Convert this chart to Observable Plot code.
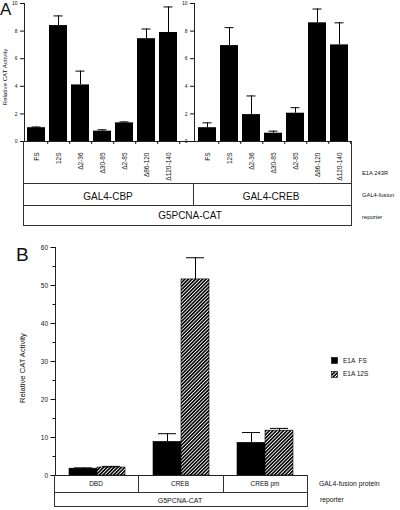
<!DOCTYPE html>
<html>
<head>
<meta charset="utf-8">
<script src="https://cdn.jsdelivr.net/npm/d3@7"></script>
<script src="https://cdn.jsdelivr.net/npm/@observablehq/plot@0.6"></script>
<style>
  body { margin: 0; background: white; }
  #wrap { position: relative; width: 400px; height: 510px; background: white; overflow: hidden;
          font-family: "Liberation Sans", Arial, Helvetica, sans-serif; color: #111; }
  .abs { position: absolute; }
  .t { position: absolute; white-space: nowrap; line-height: 1; }
  .c { transform: translate(-50%, -50%); }
  .l { transform: translate(0, -50%); }
  .hl { position: absolute; height: 0; border-top: 1px solid #333; }
  .vl { position: absolute; width: 0; border-left: 1px solid #333; }
  .rot { position: absolute; white-space: nowrap; line-height: 1; transform: translate(-50%, -50%) rotate(-90deg); }
</style>
</head>
<body>
<svg width="0" height="0" style="position:absolute">
  <defs>
    <pattern id="hatch" patternUnits="userSpaceOnUse" width="2.5" height="2.5" patternTransform="rotate(45)">
      <rect width="2.5" height="2.5" fill="white"></rect>
      <rect width="1.6" height="2.5" fill="black"></rect>
    </pattern>
  </defs>
</svg>
<div id="wrap"></div>
<script>
// ---------- data ----------
const catsA = ["FS", "12S", "Δ2-36", "Δ30-85", "Δ2-85", "Δ86-120", "Δ120-140"];
const cbpMean  = [1.0, 8.4, 4.1, 0.75, 1.35, 7.45, 7.9];
const cbpUpper = [1.05, 9.1, 5.1, 0.85, 1.42, 8.15, 9.75];
const crebMean  = [1.0, 6.95, 1.95, 0.6, 2.05, 8.6, 7.0];
const crebUpper = [1.35, 8.25, 3.3, 0.75, 2.45, 9.6, 8.6];
const ticksA = [0, 2, 4, 6, 8, 10];

const groupsB = ["DBD", "CREB", "CREB pm"];
const seriesB = ["FS", "12S"];
const fsMeanB   = [1.8, 8.85, 8.6];
const fsUpperB  = [2.0, 11.0, 11.3];
const s12MeanB  = [2.1, 51.6, 11.8];
const s12UpperB = [2.4, 57.3, 12.4];
const ticksB = [0, 10, 20, 30, 40, 50, 60];
const minorTicksB = [5, 15, 25, 35, 45, 55];

const wrap = document.getElementById("wrap");
const font = '"Liberation Sans", Arial, Helvetica, sans-serif';

function place(el, left, top) {
  const d = document.createElement("div");
  d.className = "abs";
  d.style.left = left + "px";
  d.style.top = top + "px";
  d.appendChild(el);
  wrap.appendChild(d);
}

function panelA(means, uppers, opts) {
  const data = catsA.map((c, i) => ({cat: c, value: means[i], upper: uppers[i]}));
  const n = catsA.length, pi = 0.18, po = 0.05;
  const step = (opts.xRange[1] - opts.xRange[0]) / (n - pi + 2 * po);
  return Plot.plot({
    width: opts.width, height: 183,
    marginLeft: opts.marginLeft, marginRight: opts.marginRight, marginTop: 3, marginBottom: 42,
    style: {background: "transparent", overflow: "visible", fontFamily: font, color: "#111"},
    x: {domain: catsA, range: opts.xRange, paddingInner: pi, paddingOuter: po},
    y: {domain: [0, 10]},
    marks: [
      Plot.barY(data, {x: "cat", y: "value", fill: "black"}),
      Plot.ruleX(data, {x: "cat", y1: "value", y2: "upper", stroke: "black", strokeWidth: 1}),
      Plot.tickY(data, {x: "cat", y: "upper", insetLeft: 4.5, insetRight: 4.5, stroke: "black", strokeWidth: 1}),
      Plot.frame({anchor: "left", stroke: "#222"}),
      Plot.frame({anchor: "bottom", stroke: "#222"}),
      Plot.axisY({ticks: ticksA, tickSize: 4, tickPadding: 3, fontSize: 5, label: null}),
      Plot.axisX({text: null, tickSize: 3, dx: step / 2, label: null}),
      Plot.axisX({tickSize: 0, tickPadding: 11, tickRotate: -90, fontSize: 6.5, label: null, fill: "#111"})
    ]
  });
}

place(panelA(cbpMean, cbpUpper, {width: 194, marginLeft: 24, marginRight: 0, xRange: [25, 180]}), 0, 0);
place(panelA(crebMean, crebUpper, {width: 172, marginLeft: 14, marginRight: 1, xRange: [15, 171]}), 180, 0);

// ---------- panel B ----------
const dataB = groupsB.flatMap((g, i) => [
  {group: g, series: "FS", value: fsMeanB[i], upper: fsUpperB[i]},
  {group: g, series: "12S", value: s12MeanB[i], upper: s12UpperB[i]}
]);

const plotB = Plot.plot({
  width: 310, height: 236, marginLeft: 54, marginRight: 3, marginTop: 7, marginBottom: 1,
  style: {background: "transparent", overflow: "visible", fontFamily: font, color: "#111"},
  fx: {domain: groupsB, paddingInner: 0, paddingOuter: 0, axis: null},
  x: {domain: seriesB, paddingInner: 0, paddingOuter: 0.5, axis: null},
  y: {domain: [0, 60]},
  color: {domain: seriesB, range: ["black", "url(#hatch)"]},
  marks: [
    Plot.barY(dataB, {fx: "group", x: "series", y: "value", fill: "series", stroke: "black", strokeWidth: 0.6}),
    Plot.ruleX(dataB, {fx: "group", x: "series", y1: "value", y2: "upper", stroke: "black", strokeWidth: 1}),
    Plot.tickY(dataB, {fx: "group", x: "series", y: "upper", insetLeft: 5, insetRight: 5, stroke: "black", strokeWidth: 1}),
    Plot.ruleY([0], {stroke: "#222"}),
    Plot.frame({anchor: "left", facetAnchor: "left", stroke: "#222"}),
    Plot.axisY({ticks: ticksB, tickSize: 4.5, tickPadding: 3, fontSize: 6.5, label: null}),
    Plot.axisY({ticks: minorTicksB, tickSize: 2.5, text: null, label: null})
  ]
});
place(plotB, 0, 240);

// ---------- tables, labels (HTML) ----------
function hline(x1, x2, y) { const d = document.createElement("div"); d.className = "hl";
  d.style.left = x1 + "px"; d.style.width = (x2 - x1) + "px"; d.style.top = y + "px"; wrap.appendChild(d); }
function vline(x, y1, y2) { const d = document.createElement("div"); d.className = "vl";
  d.style.left = x + "px"; d.style.top = y1 + "px"; d.style.height = (y2 - y1) + "px"; wrap.appendChild(d); }
function text(str, x, y, size, cls, extra) { const d = document.createElement("div"); d.className = "t " + cls;
  d.style.left = x + "px"; d.style.top = y + "px"; d.style.fontSize = size + "px"; d.textContent = str;
  if (extra) Object.assign(d.style, extra); wrap.appendChild(d); return d; }
function rtext(str, x, y, size) { const d = document.createElement("div"); d.className = "rot";
  d.style.left = x + "px"; d.style.top = y + "px"; d.style.fontSize = size + "px"; d.textContent = str; wrap.appendChild(d); }

// Panel A table
vline(23, 141, 225); vline(351, 141, 225);
hline(23, 352, 183); hline(23, 352, 205); hline(23, 352, 225);
vline(193, 183, 205);
text("GAL4-CBP", 108, 196.5, 10, "c");
text("GAL4-CREB", 271, 196.5, 10, "c");
text("G5PCNA-CAT", 190, 216, 10, "c");
text("E1A 243R", 362, 174, 5.8, "l");
text("GAL4-fusion", 362, 196, 5.8, "l");
text("reporter", 362, 218, 5.8, "l");
rtext("Relative CAT Activity", 5, 77, 6.2);
text("A", 0, 9, 17, "l");

// Panel B table
vline(54, 475, 506); vline(307, 475, 506);
hline(54, 308, 492); hline(54, 308, 506);
vline(138, 475, 492); vline(223, 475, 492);
text("DBD", 96, 484, 6.5, "c");
text("CREB", 180, 484, 6.5, "c");
text("CREB pm", 265, 484, 6.5, "c");
text("G5PCNA-CAT", 180, 499.5, 7, "c");
text("GAL4-fusion protein", 319, 484, 6.8, "l");
text("reporter", 320, 500, 6.8, "l");
rtext("Relative CAT Activity", 22.5, 368, 7.6);
text("B", 16, 254, 19, "l");

// Legend
const legendItems = [{label: "E1A  FS", fill: "black", y: 360.5}, {label: "E1A 12S", fill: "url(#hatch)", y: 374}];
for (const it of legendItems) {
  const ns = "http://www.w3.org/2000/svg";
  const s = document.createElementNS(ns, "svg");
  s.setAttribute("width", 7); s.setAttribute("height", 7);
  s.style.position = "absolute"; s.style.left = "331px"; s.style.top = (it.y - 3.5) + "px";
  const r = document.createElementNS(ns, "rect");
  r.setAttribute("x", 0.5); r.setAttribute("y", 0.5); r.setAttribute("width", 6); r.setAttribute("height", 6);
  r.setAttribute("fill", it.fill); r.setAttribute("stroke", "black"); r.setAttribute("stroke-width", 0.6);
  s.appendChild(r); wrap.appendChild(s);
  text(it.label, 343, it.y, 6.5, "l", {whiteSpace: "pre"});
}
</script>
</body>
</html>
